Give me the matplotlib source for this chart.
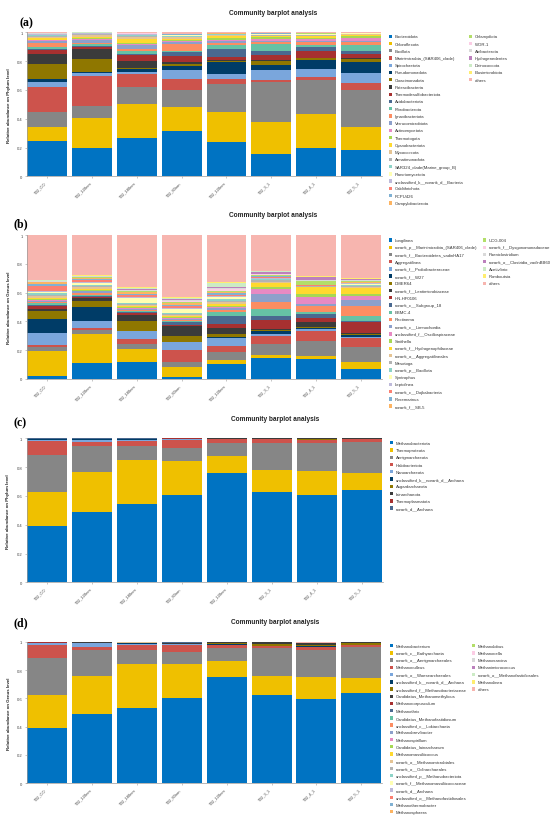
import matplotlib
matplotlib.use('Agg')
from matplotlib import pyplot as plt
from matplotlib.patches import Rectangle

plt.rcParams['font.family'] = ['Liberation Sans', 'DejaVu Sans']

W, H = 550, 820

samples = ['T32_CO', 'T32_120nm', 'T32_180nm', 'T32_80nm', 'T32_120nm',
           'T32_3_1', 'T32_4_1', 'T32_5_1']

# colour sets (jco + Set2 + Set3), "others" last
jco = ['#0073C2', '#EFC000', '#868686', '#CD534C', '#7AA6DC', '#003C67',
       '#8F7700', '#3B3B3B', '#A73030', '#4A6990']
set2 = ['#66C2A5', '#FC8D62', '#8DA0CB', '#E78AC3', '#A6D854', '#FFD92F',
        '#E5C494', '#B3B3B3']
set3 = ['#8DD3C7', '#FFFFB3', '#BEBADA', '#FB8072', '#80B1D3', '#FDB462',
        '#B3DE69', '#FCCDE5', '#D9D9D9', '#BC80BD', '#CCEBC5', '#FFED6F']
others_color = '#F7B5AF'

# (a) bacteria, phylum level
phylum_a = ['Bacteroidota', 'Chloroflexota', 'Bacillota', 'Marinimicrobia_(SAR406_clade)',
            'Spirochaetota', 'Pseudomonadota', 'Cloacimonadota', 'Patescibacteria',
            'Thermodesulfobacteriota', 'Acidobacteriota', 'Fibrobacterota',
            'Ignavibacteriota', 'Verrucomicrobiota', 'Actinomycetota', 'Thermotogota',
            'Cyanobacteriota', 'Myxococcota', 'Armatimonadota',
            'SAR324_clade(Marine_group_B)', 'Planctomycetota',
            'unclassified_k__norank_d__Bacteria', 'Caldithrichota', 'FCPU426',
            'Campylobacterota', 'Chlamydiota', 'WOR-1', 'Atribacterota',
            'Hydrogenedentes', 'Deinococcota', 'Elusimicrobiota', 'others']
values_a = [
    [0.248, 0.097, 0.099, 0.179, 0.030, 0.023, 0.104, 0.070, 0.027, 0.005, 0.013, 0.032, 0.010, 0.008, 0.005,
     0.012, 0.008, 0.006, 0.004, 0.003, 0.002, 0.002, 0.001, 0.001, 0.001, 0.001, 0.001, 0.001, 0.000, 0.001],
    [0.197, 0.208, 0.086, 0.208, 0.019, 0.009, 0.088, 0.069, 0.012, 0.011, 0.009, 0.012, 0.020, 0.006, 0.005,
     0.008, 0.012, 0.006, 0.003, 0.002, 0.002, 0.001, 0.001, 0.001, 0.001, 0.001, 0.001, 0.000, 0.001, 0.000],
    [0.269, 0.231, 0.118, 0.093, 0.011, 0.023, 0.005, 0.053, 0.040, 0.008, 0.022, 0.011, 0.025, 0.010, 0.005,
     0.030, 0.010, 0.008, 0.006, 0.004, 0.003, 0.002, 0.002, 0.001, 0.001, 0.001, 0.001, 0.001, 0.001, 0.001],
    [0.315, 0.164, 0.123, 0.074, 0.062, 0.031, 0.009, 0.014, 0.046, 0.023, 0.007, 0.051, 0.011, 0.012, 0.006,
     0.008, 0.008, 0.006, 0.005, 0.003, 0.003, 0.002, 0.002, 0.001, 0.001, 0.002, 0.001, 0.001, 0.000, 0.000],
    [0.241, 0.203, 0.197, 0.035, 0.035, 0.081, 0.007, 0.009, 0.018, 0.058, 0.030, 0.012, 0.012, 0.011, 0.013,
     0.012, 0.005, 0.004, 0.002, 0.002, 0.001, 0.001, 0.001, 0.006, 0.001, 0.000, 0.000, 0.000, 0.000, 0.000],
    [0.153, 0.227, 0.273, 0.018, 0.070, 0.034, 0.028, 0.007, 0.033, 0.025, 0.051, 0.011, 0.012, 0.012, 0.011,
     0.008, 0.004, 0.004, 0.003, 0.002, 0.002, 0.002, 0.002, 0.001, 0.001, 0.001, 0.001, 0.001, 0.000, 0.000],
    [0.194, 0.239, 0.236, 0.019, 0.057, 0.065, 0.009, 0.005, 0.049, 0.027, 0.014, 0.016, 0.012, 0.012, 0.009,
     0.008, 0.005, 0.004, 0.003, 0.002, 0.002, 0.002, 0.001, 0.001, 0.001, 0.001, 0.001, 0.001, 0.000, 0.000],
    [0.185, 0.160, 0.257, 0.046, 0.070, 0.074, 0.023, 0.005, 0.030, 0.023, 0.041, 0.016, 0.012, 0.019, 0.010,
     0.009, 0.005, 0.004, 0.002, 0.002, 0.001, 0.001, 0.001, 0.001, 0.001, 0.000, 0.000, 0.000, 0.000, 0.000],
]

# (b) bacteria, genus level
genus_b = ['Longilinea', 'norank_p__Marinimicrobia_(SAR406_clade)',
           'norank_f__Bacteroidetes_vadinHA17', 'Aggregatilinea',
           'norank_f__Prolixibacteraceae', 'norank_f__W27', 'DMER64',
           'norank_f__Lentimicrobiaceae', 'HN-HF0106', 'norank_c__Subgroup_18',
           'BBMC-4', 'Rectinema', 'norank_c__Limnochordia',
           'unclassified_f__Oscillospiraceae', 'Smithella',
           'norank_f__Hydrogenophilaceae', 'norank_o__Aggregatilineales', 'Mesotoga',
           'norank_p__Bacillota', 'Syntrophus', 'Leptolinea', 'norank_c__Dojkabacteria',
           'Rosemarinus', 'norank_f__SB-5', 'UCG-004', 'norank_f__Dysgonomonadaceae',
           'Paeniclostridium', 'norank_o__Clostridia_vadinBB60', 'Acetivibrio',
           'Romboutsia', 'others']
values_b = [
    [0.023, 0.174, 0.028, 0.013, 0.079, 0.100, 0.058, 0.011, 0.019, 0.009, 0.014, 0.008, 0.007, 0.006, 0.006,
     0.008, 0.010, 0.012, 0.009, 0.012, 0.006, 0.035, 0.010, 0.014, 0.003, 0.003, 0.004, 0.002, 0.002, 0.003],
    [0.109, 0.203, 0.028, 0.014, 0.051, 0.093, 0.046, 0.016, 0.012, 0.006, 0.008, 0.010, 0.012, 0.006, 0.005,
     0.006, 0.012, 0.008, 0.006, 0.014, 0.012, 0.008, 0.007, 0.010, 0.003, 0.004, 0.004, 0.003, 0.002, 0.004],
    [0.116, 0.092, 0.035, 0.035, 0.053, 0.005, 0.064, 0.047, 0.009, 0.007, 0.012, 0.006, 0.006, 0.005, 0.005,
     0.007, 0.010, 0.006, 0.008, 0.035, 0.008, 0.010, 0.012, 0.010, 0.006, 0.005, 0.006, 0.004, 0.005, 0.008],
    [0.012, 0.069, 0.035, 0.085, 0.054, 0.004, 0.042, 0.069, 0.007, 0.017, 0.008, 0.006, 0.008, 0.006, 0.008,
     0.008, 0.008, 0.006, 0.006, 0.030, 0.008, 0.010, 0.006, 0.016, 0.005, 0.008, 0.010, 0.004, 0.006, 0.006],
    [0.104, 0.028, 0.053, 0.046, 0.051, 0.007, 0.024, 0.041, 0.028, 0.058, 0.028, 0.012, 0.010, 0.008, 0.008,
     0.012, 0.014, 0.012, 0.012, 0.010, 0.012, 0.008, 0.010, 0.010, 0.008, 0.008, 0.012, 0.004, 0.030, 0.008],
    [0.148, 0.021, 0.074, 0.058, 0.012, 0.023, 0.004, 0.007, 0.063, 0.025, 0.051, 0.051, 0.053, 0.035, 0.016,
     0.023, 0.010, 0.012, 0.006, 0.004, 0.008, 0.004, 0.004, 0.004, 0.004, 0.008, 0.004, 0.014, 0.004, 0.002],
    [0.139, 0.023, 0.104, 0.070, 0.011, 0.005, 0.007, 0.039, 0.023, 0.030, 0.012, 0.046, 0.014, 0.044, 0.023,
     0.047, 0.004, 0.003, 0.002, 0.001, 0.002, 0.001, 0.001, 0.001, 0.030, 0.002, 0.003, 0.022, 0.002, 0.002],
    [0.069, 0.047, 0.104, 0.062, 0.007, 0.017, 0.009, 0.004, 0.075, 0.006, 0.040, 0.069, 0.042, 0.028, 0.011,
     0.040, 0.008, 0.010, 0.006, 0.004, 0.006, 0.003, 0.003, 0.004, 0.006, 0.004, 0.004, 0.003, 0.002, 0.006],
]

# (c) archaea, phylum level (last one takes the remainder)
phylum_c = ['Methanobacteriota', 'Thermoproteota', 'Aenigmarchaeota', 'Halobacteriota',
            'Nanoarchaeota', 'unclassified_k__norank_d__Archaea', 'Asgardarchaeota',
            'Iainarchaeota', 'Thermoplasmatota', 'norank_d__Archaea']
values_c = [
    [0.394, 0.231, 0.262, 0.097, 0.007, 0.001, 0.001, 0.001, 0.001],
    [0.491, 0.278, 0.180, 0.023, 0.019, 0.004, 0.001, 0.001, 0.001],
    [0.544, 0.308, 0.097, 0.035, 0.004, 0.007, 0.001, 0.001, 0.001],
    [0.606, 0.239, 0.086, 0.060, 0.001, 0.001, 0.002, 0.003, 0.001],
    [0.759, 0.116, 0.090, 0.030, 0.001, 0.001, 0.001, 0.001, 0.001],
    [0.630, 0.150, 0.190, 0.025, 0.001, 0.001, 0.001, 0.001, 0.001],
    [0.609, 0.166, 0.190, 0.023, 0.001, 0.001, 0.007, 0.002, 0.001],
    [0.644, 0.115, 0.213, 0.023, 0.001, 0.001, 0.001, 0.001, 0.001],
]

# (d) archaea, genus level
genus_d = ['Methanobacterium', 'norank_c__Bathyarchaeia', 'norank_o__Aenigmarchaeales',
           'Methanoculleus', 'norank_o__Woesearchaeales',
           'unclassified_k__norank_d__Archaea', 'unclassified_f__Methanobacteriaceae',
           'Candidatus_Methanomethylicus', 'Methanocorpusculum', 'Methanothrix',
           'Candidatus_Methanofastidiosum', 'unclassified_c__Lokiarchaeia',
           'Methanobrevibacter', 'Methanospirillum', 'Candidatus_Iainarchaeum',
           'Methanomassiliicoccus', 'norank_o__Methanomicrobiales',
           'norank_o__Odinarchaeales', 'unclassified_p__Methanobacteriota',
           'norank_f__Methanomassiliicoccaceae', 'norank_d__Archaea',
           'unclassified_o__Methanofastidiosales', 'Methanothermobacter',
           'Methanosphaera', 'Methanolobus', 'Methanocella', 'Methanosarcina',
           'Methanimicrococcus', 'norank_o__Methanofastidiosales', 'Methanolinea',
           'others']
values_d = [
    [0.393, 0.233, 0.259, 0.094, 0.012, 0.001, 0.001, 0.001, 0.001, 0.001, 0.000, 0.000, 0.000, 0.000, 0.000,
     0.000, 0.000, 0.000, 0.000, 0.000, 0.000, 0.000, 0.000, 0.000, 0.000, 0.000, 0.000, 0.000, 0.000, 0.000],
    [0.487, 0.273, 0.181, 0.024, 0.023, 0.005, 0.001, 0.001, 0.001, 0.000, 0.000, 0.000, 0.000, 0.000, 0.000,
     0.000, 0.000, 0.000, 0.000, 0.000, 0.000, 0.000, 0.000, 0.000, 0.002, 0.000, 0.000, 0.000, 0.000, 0.000],
    [0.534, 0.311, 0.099, 0.032, 0.005, 0.007, 0.002, 0.001, 0.001, 0.001, 0.000, 0.000, 0.000, 0.000, 0.000,
     0.000, 0.003, 0.000, 0.000, 0.000, 0.000, 0.000, 0.000, 0.000, 0.000, 0.000, 0.000, 0.000, 0.000, 0.000],
    [0.602, 0.240, 0.087, 0.050, 0.002, 0.001, 0.004, 0.006, 0.002, 0.001, 0.000, 0.000, 0.002, 0.000, 0.000,
     0.000, 0.000, 0.000, 0.000, 0.000, 0.000, 0.000, 0.000, 0.000, 0.000, 0.000, 0.000, 0.000, 0.000, 0.000],
    [0.748, 0.113, 0.092, 0.026, 0.001, 0.001, 0.012, 0.003, 0.001, 0.001, 0.000, 0.000, 0.000, 0.000, 0.000,
     0.000, 0.000, 0.000, 0.000, 0.000, 0.000, 0.000, 0.000, 0.000, 0.000, 0.000, 0.000, 0.000, 0.000, 0.000],
    [0.626, 0.132, 0.197, 0.014, 0.001, 0.001, 0.012, 0.015, 0.001, 0.000, 0.000, 0.000, 0.000, 0.000, 0.000,
     0.000, 0.000, 0.000, 0.000, 0.000, 0.000, 0.000, 0.000, 0.000, 0.000, 0.000, 0.000, 0.000, 0.000, 0.000],
    [0.598, 0.155, 0.191, 0.021, 0.001, 0.001, 0.010, 0.012, 0.002, 0.001, 0.000, 0.000, 0.000, 0.000, 0.000,
     0.000, 0.000, 0.000, 0.000, 0.000, 0.000, 0.000, 0.000, 0.000, 0.000, 0.000, 0.000, 0.000, 0.000, 0.000],
    [0.635, 0.111, 0.219, 0.011, 0.001, 0.001, 0.010, 0.008, 0.001, 0.001, 0.000, 0.000, 0.000, 0.000, 0.000,
     0.000, 0.000, 0.000, 0.000, 0.000, 0.000, 0.000, 0.000, 0.000, 0.000, 0.000, 0.000, 0.000, 0.000, 0.000],
]

fig = plt.figure(figsize=(5.5, 8.2), dpi=100)


def px_axes(left, top, right, bottom):
    return fig.add_axes([left / W, 1 - bottom / H, (right - left) / W, (bottom - top) / H])


def with_rest(rows):
    # last column = what is left to reach 1
    return [r + [max(0.0, 1 - sum(r))] for r in rows]


def draw_bars(ax, rows, colors, ylabel, ylab_x):
    x = list(range(len(samples)))
    bottom = [0.0] * len(samples)
    for k, c in enumerate(colors):
        vals = [r[k] for r in rows]
        ax.bar(x, vals, 0.89, bottom=bottom, color=c, linewidth=0)
        bottom = [b + v for b, v in zip(bottom, vals)]
    ax.set_xlim(-0.46, len(samples) - 0.54)
    ax.set_ylim(0, 1)
    ax.set_yticks([0, 0.2, 0.4, 0.6, 0.8, 1])
    ax.set_yticklabels(['0', '0.2', '0.4', '0.6', '0.8', '1'])
    ax.set_xticks(x)
    ax.set_xticklabels(samples, rotation=45, ha='right', va='top')
    ax.tick_params(axis='both', labelsize=3, length=1.5, width=0.4, pad=1.5,
                   color='#999999', labelcolor='#444444')
    for s in ['top', 'right']:
        ax.spines[s].set_visible(False)
    for s in ['left', 'bottom']:
        ax.spines[s].set_color('#9a9a9a')
        ax.spines[s].set_linewidth(0.5)
    ax.set_ylabel(ylabel, fontsize=3.2, fontweight='bold', color='#222222')
    ax.yaxis.set_label_coords(ylab_x, 0.5)


def draw_legend(names, colors, cols_x, y0, step, per_col=24):
    for i, (name, c) in enumerate(zip(names, colors)):
        col, row = divmod(i, per_col)
        xm = cols_x[col]
        y = y0 + row * step
        fig.add_artist(Rectangle((xm / W, 1 - (y + 1.7) / H), 3.4 / W, 3.4 / H,
                                 transform=fig.transFigure, facecolor=c, linewidth=0))
        fig.text((xm + 6) / W, 1 - y / H, name, fontsize=3.1, color='#333333',
                 ha='left', va='center')


def panel_text(letter, lx, ly, tx, ty):
    fig.text(lx / W, 1 - ly / H, letter, fontsize=8.5, fontweight='bold',
             family='Liberation Serif', ha='left', va='center')
    fig.text(tx / W, 1 - ty / H, 'Community barplot analysis', fontsize=4.7,
             fontweight='bold', color='#222222', ha='center', va='center')


colors31 = jco + set2 + set3 + [others_color]

# (a)
ax_a = px_axes(26.7, 33.3, 381.5, 177.3)
draw_bars(ax_a, with_rest(values_a), colors31, 'Relative abundance on Phylum level', -0.045)
draw_legend(phylum_a, colors31, [389, 469], 37.3, 7.24)
panel_text('(a)', 20, 23, 273, 13.3)

# (b)
ax_b = px_axes(26.7, 236, 381.5, 380)
draw_bars(ax_b, with_rest(values_b), colors31, 'Relative abundance on Genus level', -0.045)
draw_legend(genus_b, colors31, [389, 483], 241, 7.22)
panel_text('(b)', 13, 224, 273, 215.3)

# (c)
ax_c = px_axes(26.5, 439.3, 383, 583.3)
draw_bars(ax_c, with_rest(values_c), jco, 'Relative abundance on Phylum level', -0.045)
draw_legend(phylum_c, jco, [390], 443.7, 7.27)
panel_text('(c)', 13, 423.3, 275, 419.3)

# (d)
ax_d = px_axes(26.5, 642.7, 382, 784.3)
draw_bars(ax_d, with_rest(values_d), colors31, 'Relative abundance on Genus level', -0.045)
draw_legend(genus_d, colors31, [389.5, 472], 646.7, 7.22)
panel_text('(d)', 13, 623.3, 275, 622.7)

fig.savefig('out.png', dpi=100)
